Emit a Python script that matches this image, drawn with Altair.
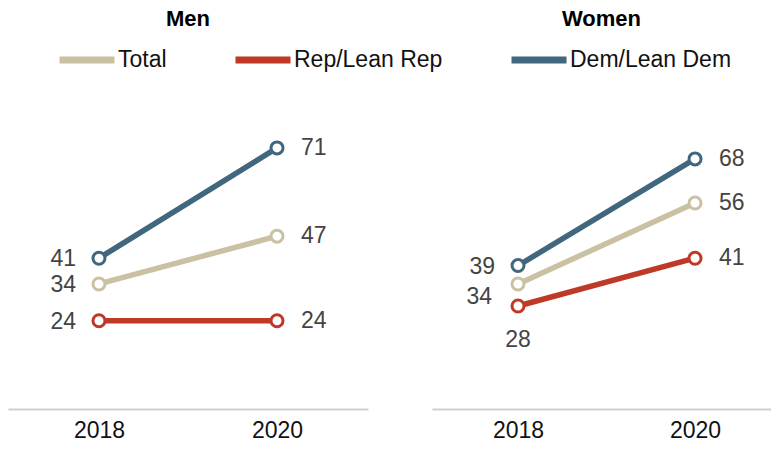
import altair as alt
import pandas as pd

years = ["2018", "2020"]
groups = ["Total", "Rep/Lean Rep", "Dem/Lean Dem"]
panels = ["Men", "Women"]
men_total = [34, 47]
men_rep = [24, 24]
men_dem = [41, 71]
women_total = [34, 56]
women_rep = [28, 41]
women_dem = [39, 68]
colors = ["#C9C1A1", "#BF3927", "#41677F"]

rows = []
for gender, series in zip(panels, [[men_total, men_rep, men_dem], [women_total, women_rep, women_dem]]):
    for g, vals in zip(groups, series):
        for yr, v in zip(years, vals):
            rows.append({"gender": gender, "group": g, "year": yr, "value": v})
df = pd.DataFrame(rows)

FONT = "Liberation Sans"
LABEL_COLOR = "#444444"


def panel(gender, show_legend, width, pad, align):
    base = alt.Chart(df).transform_filter(alt.datum.gender == gender)
    x = alt.X("year:O", scale=alt.Scale(type="point", padding=pad, align=align),
              axis=alt.Axis(title=None, labelAngle=0, ticks=False, domainColor="#d0d0d0",
                            domainWidth=2, labelFontSize=23, labelPadding=10, labelColor="#111111",
                            labelFont=FONT, grid=False))
    y = alt.Y("value:Q", scale=alt.Scale(domain=[0, 90], nice=False, zero=True), axis=None)
    cscale = alt.Scale(domain=groups, range=colors)
    if show_legend:
        color = alt.Color("group:N", scale=cscale, legend=alt.Legend(title=None), sort=groups)
    else:
        color = alt.Color("group:N", scale=cscale, legend=None)
    lines = base.mark_line(strokeWidth=5.5).encode(x=x, y=y, color=color, detail="group:N")
    points = base.mark_point(shape="circle", filled=False, fill="white", fillOpacity=1, opacity=1,
                             size=144, strokeWidth=3).encode(
        x=x, y=y, color=alt.Color("group:N", scale=cscale, legend=None))
    txt = dict(font=FONT, fontSize=23, color=LABEL_COLOR, baseline="middle")
    right = base.transform_filter(alt.datum.year == "2020").mark_text(align="left", dx=24, **txt).encode(
        x=x, y=y, text="value:Q")
    left_filter = "datum.year == '2018' && !(datum.gender == 'Women' && datum.group != 'Dem/Lean Dem')"
    left = base.transform_filter(left_filter).mark_text(align="right", dx=-23, dy=1, **txt).encode(
        x=x, y=y, text="value:Q")
    layers = [lines, points, right, left]
    if gender == "Women":
        wt = base.transform_filter("datum.year == '2018' && datum.group == 'Total'").mark_text(
            align="right", dx=-26, dy=13, **txt).encode(x=x, y=y, text="value:Q")
        wr = base.transform_filter("datum.year == '2018' && datum.group == 'Rep/Lean Rep'").mark_text(
            align="center", dy=34, **txt).encode(x=x, y=y, text="value:Q")
        layers += [wt, wr]
    return alt.layer(*layers).properties(
        width=width, height=331,
        title=alt.TitleParams(gender, fontSize=22, fontWeight=900, font=FONT, anchor="middle",
                              offset=47, color="#000000"))


chart = alt.hconcat(
    panel("Men", True, 360, 0.511, 0.5),
    panel("Women", False, 339, 0.4576, 0.531),
    spacing=64,
).properties(
    padding={"left": 0, "top": 0, "right": 0, "bottom": 0}
).configure_view(stroke=None).configure_legend(
    orient="none", legendX=48, legendY=-49, direction="horizontal", columnPadding=54,
    symbolType="stroke", symbolSize=3025, symbolStrokeWidth=7, labelFontSize=23,
    labelFont=FONT, labelColor="#111111", labelOffset=0, labelLimit=400
)

chart.save("out.html", embed_options={"renderer": "svg", "actions": False})
